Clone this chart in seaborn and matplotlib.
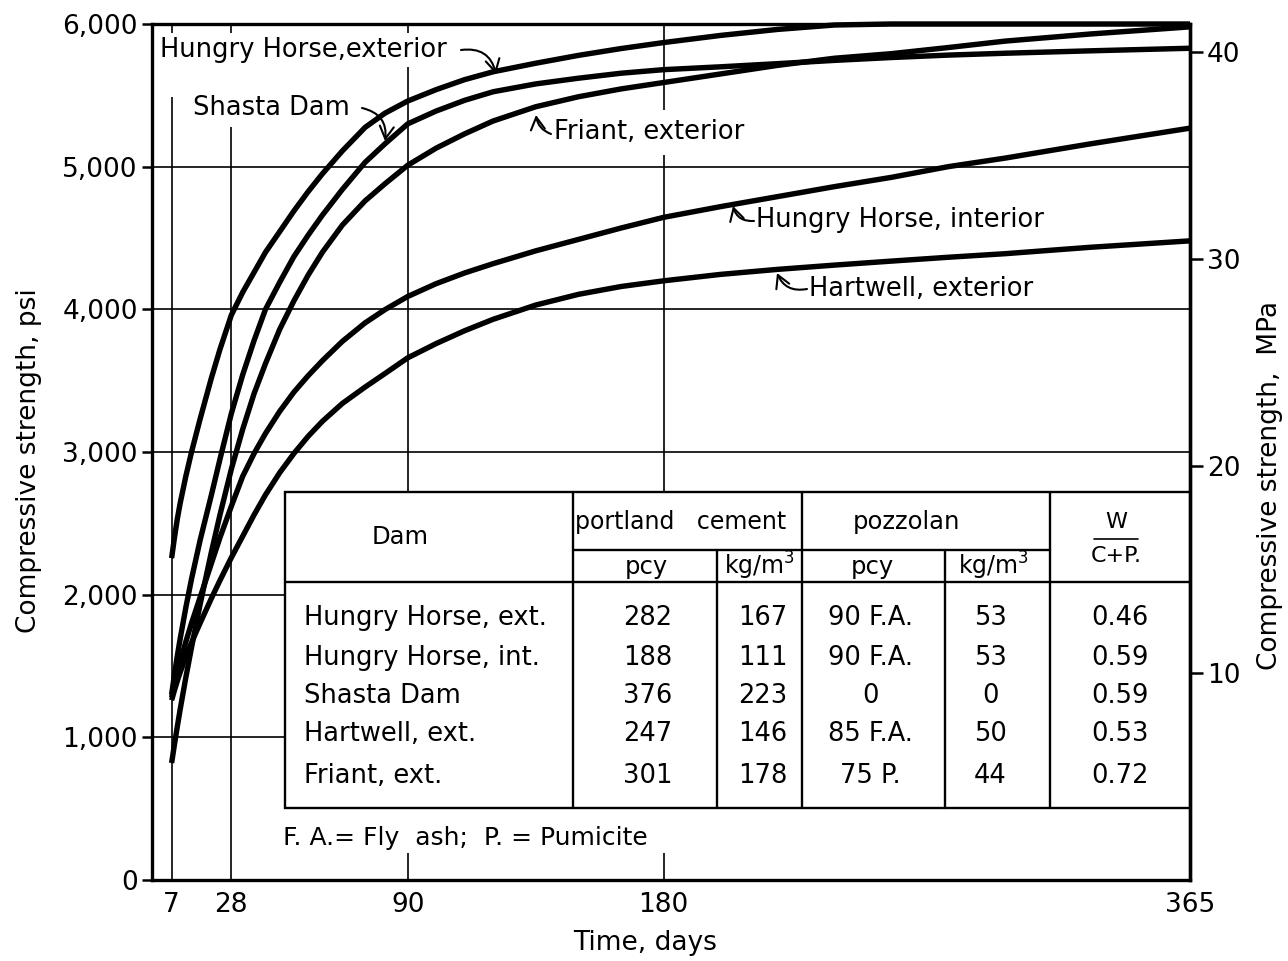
import matplotlib
matplotlib.use("Agg")
import matplotlib.pyplot as plt
from matplotlib.patches import Rectangle
from matplotlib.lines import Line2D
import pandas as pd
import seaborn as sns

# Strength-development curves (psi) at test ages (days)
days = [7, 8, 9, 10, 12, 14, 17, 21, 24, 28, 32, 36, 40, 45, 50, 55, 60, 67, 75, 82,
        90, 100, 110, 120, 135, 150, 165, 180, 200, 220, 240, 260, 280, 300, 330, 365]

hungry_horse_ext = [2256, 2400, 2530, 2640, 2830, 3000, 3230, 3520, 3720, 3960,
                    4120, 4260, 4400, 4545, 4690, 4825, 4950, 5110, 5275, 5375,
                    5460, 5540, 5610, 5665, 5725, 5780, 5828, 5870, 5920, 5962,
                    5993, 6000, 6000, 6000, 6000, 6000]
shasta_dam = [1300, 1440, 1570, 1690, 1910, 2110, 2380, 2700, 2950, 3270,
              3542, 3782, 4000, 4190, 4370, 4520, 4660, 4840, 5030, 5160,
              5300, 5390, 5465, 5525, 5580, 5620, 5655, 5680, 5700, 5722,
              5745, 5765, 5782, 5795, 5812, 5830]
friant_ext = [820, 950, 1075, 1195, 1420, 1630, 1930, 2300, 2560, 2880,
              3160, 3410, 3620, 3860, 4060, 4240, 4400, 4590, 4760, 4880,
              5010, 5130, 5230, 5320, 5420, 5490, 5545, 5590, 5650, 5710,
              5760, 5792, 5835, 5880, 5930, 5980]
hungry_horse_int = [1280, 1370, 1450, 1525, 1670, 1800, 1980, 2220, 2400, 2620,
                    2830, 2990, 3130, 3285, 3420, 3535, 3640, 3775, 3905, 3998,
                    4090, 4180, 4255, 4320, 4410, 4490, 4570, 4645, 4720, 4790,
                    4860, 4925, 5000, 5060, 5160, 5270]
hartwell_ext = [1260, 1330, 1395, 1455, 1565, 1665, 1800, 1975, 2100, 2260,
                2410, 2560, 2700, 2855, 2990, 3110, 3215, 3340, 3455, 3550,
                3660, 3760, 3850, 3930, 4030, 4105, 4160, 4200, 4245, 4280,
                4310, 4338, 4365, 4390, 4435, 4480]

curve_names = ["Hungry Horse, exterior", "Shasta Dam", "Friant, exterior",
               "Hungry Horse, interior", "Hartwell, exterior"]
curve_values = [hungry_horse_ext, shasta_dam, friant_ext, hungry_horse_int, hartwell_ext]

x_ticks = [7, 28, 90, 180, 365]
psi_ticks = [0, 1000, 2000, 3000, 4000, 5000, 6000]
psi_labels = ["0", "1,000", "2,000", "3,000", "4,000", "5,000", "6,000"]
mpa_ticks = [10, 20, 30, 40]
mpa_labels = ["10", "20", "30", "40"]
PSI_TO_MPA = 0.00689476

# Mix table
table_dams = ["Hungry Horse, ext.", "Hungry Horse, int.", "Shasta Dam", "Hartwell, ext.", "Friant, ext."]
cement_pcy = ["282", "188", "376", "247", "301"]
cement_kgm3 = ["167", "111", "223", "146", "178"]
pozzolan_pcy = ["90 F.A.", "90 F.A.", "0", "85 F.A.", "75 P."]
pozzolan_kgm3 = ["53", "53", "0", "50", "44"]
w_cp_ratio = ["0.46", "0.59", "0.59", "0.53", "0.72"]

sns.set_style("white")
plt.rcParams["font.family"] = ["DejaVu Sans"]
for key in ("text.color", "axes.labelcolor", "xtick.color", "ytick.color", "axes.edgecolor"):
    plt.rcParams[key] = "black"

W, H = 1288, 961
L, R, T, B = 151.7, 1190.0, 24.0, 880.0
XMAX, YMAX = 365, 6000

fig = plt.figure(figsize=(W / 100, H / 100), dpi=100)
ax = fig.add_axes([L / W, 1 - B / H, (R - L) / W, (B - T) / H])
ax.set_xlim(0, XMAX)
ax.set_ylim(0, YMAX)


def fx(px):
    return px / W


def fy(py):
    return 1 - py / H


def dx(px):
    return (px - L) / (R - L) * XMAX


def dy(py):
    return (B - py) / (B - T) * YMAX


# Curves
rows = []
for name, vals in zip(curve_names, curve_values):
    for d, v in zip(days, vals):
        rows.append({"day": d, "psi": v, "dam": name})
df = pd.DataFrame(rows)
sns.lineplot(data=df, x="day", y="psi", hue="dam", hue_order=curve_names,
             palette={n: "black" for n in curve_names}, estimator=None,
             sort=False, legend=False, linewidth=3.9, ax=ax, zorder=4)
for ln in ax.lines:
    ln.set_clip_on(False)
    ln.set_solid_joinstyle("round")
    ln.set_solid_capstyle("butt")

# Grid lines (broken around labels and table)
gkw = dict(colors="black", linewidth=1.2, zorder=2)
ax.hlines([1000, 2000, 3000, 4000, 5000], 0, XMAX, **gkw)
ax.vlines(7, 0, dy(97), **gkw)
ax.vlines(7, dy(33), YMAX, **gkw)
ax.vlines(28, 0, dy(127), **gkw)
ax.vlines(28, dy(33), YMAX, **gkw)
ax.vlines(90, 0, dy(853), **gkw)
ax.vlines(90, dy(492), dy(67), **gkw)
ax.vlines(90, dy(33), YMAX, **gkw)
ax.vlines(180, 0, dy(853), **gkw)
ax.vlines(180, dy(492), dy(155), **gkw)
ax.vlines(180, dy(110), YMAX, **gkw)

# Axes styling
for side in ["left", "right", "top", "bottom"]:
    ax.spines[side].set_linewidth(2.4)
ax.set_xticks(x_ticks)
ax.set_xticklabels([str(t) for t in x_ticks])
ax.set_yticks(psi_ticks)
ax.set_yticklabels(psi_labels)
ax.tick_params(axis="x", length=0, pad=9, labelsize=19)
ax.tick_params(axis="y", direction="out", length=7, width=1.8, pad=3, labelsize=19)
ax.set_xlabel("Time, days", fontsize=19)
ax.set_ylabel("Compressive strength, psi", fontsize=19)
ax.xaxis.set_label_coords((645 - L) / (R - L), -(930 - B) / (B - T))
ax.yaxis.set_label_coords((42 - L) / (R - L), 1 - (461 - T) / (B - T))

ax2 = ax.twinx()
ax2.set_ylim(0, YMAX * PSI_TO_MPA)
ax2.set_yticks(mpa_ticks)
ax2.set_yticklabels(mpa_labels)
ax2.tick_params(axis="y", direction="out", length=9, width=1.8, pad=3, labelsize=19)
for side in ["left", "top", "bottom"]:
    ax2.spines[side].set_visible(False)
ax2.spines["right"].set_linewidth(2.4)
ax2.set_ylabel("Compressive strength,  MPa", fontsize=19)
ax2.yaxis.set_label_coords((1257 - L) / (R - L), 1 - (486 - T) / (B - T))

# Curve labels with pointer arrows
lab_kw = dict(fontsize=18.5, color="black", zorder=6)
akw = dict(arrowstyle="->,head_length=0.5,head_width=0.28", color="black",
           lw=1.5, mutation_scale=18, shrinkA=0, shrinkB=0)
ax.text(dx(160), dy(50), "Hungry Horse,exterior", ha="left", va="center", **lab_kw)
ax.annotate("", xy=(dx(496), dy(74)), xytext=(dx(461), dy(50)),
            arrowprops=dict(connectionstyle="arc3,rad=-0.45", **akw))
ax.text(dx(193), dy(108), "Shasta Dam", ha="left", va="center", **lab_kw)
ax.annotate("", xy=(dx(385), dy(141)), xytext=(dx(362), dy(108)),
            arrowprops=dict(connectionstyle="arc3,rad=-0.45", **akw))
ax.text(dx(554), dy(132), "Friant, exterior", ha="left", va="center", **lab_kw)
ax.annotate("", xy=(dx(536), dy(115)), xytext=(dx(551), dy(134)),
            arrowprops=dict(connectionstyle="arc3,rad=-0.3", **akw))
ax.text(dx(756), dy(220), "Hungry Horse, interior", ha="left", va="center", **lab_kw)
ax.annotate("", xy=(dx(733), dy(206)), xytext=(dx(754), dy(221)),
            arrowprops=dict(connectionstyle="arc3,rad=-0.4", **akw))
ax.text(dx(809), dy(289), "Hartwell, exterior", ha="left", va="center", **lab_kw)
ax.annotate("", xy=(dx(777), dy(273)), xytext=(dx(807), dy(289)),
            arrowprops=dict(connectionstyle="arc3,rad=-0.4", **akw))

# Mix-proportion table, laid out in figure coordinates
tf = fig.transFigure
tlw = 1.7
ax.add_patch(Rectangle((fx(285), fy(808)), fx(1190) - fx(285), fy(492) - fy(808),
                       transform=tf, facecolor="white", edgecolor="black",
                       linewidth=tlw, zorder=5, clip_on=False))


def seg(x0, y0, x1, y1, lw=tlw):
    ax.add_line(Line2D([fx(x0), fx(x1)], [fy(y0), fy(y1)], transform=tf,
                       color="black", linewidth=lw, zorder=6, clip_on=False))


seg(285, 582, 1190, 582)
seg(573, 550, 1050, 550)
for xc in (573, 802, 1050):
    seg(xc, 492, xc, 808)
for xc in (717, 945):
    seg(xc, 550, xc, 808)


def ttext(x, y, s, ha="center", size=18.5):
    ax.text(fx(x), fy(y), s, transform=tf, ha=ha, va="center", fontsize=size,
            color="black", zorder=7, clip_on=False)


ttext(400, 537, "Dam", size=17.5)
ttext(681, 522, "portland   cement", size=17)
ttext(646, 567, "pcy", size=17.5)
ttext(760, 566, "kg/m$^3$", size=17)
ttext(906, 522, "pozzolan", size=17.5)
ttext(872, 567, "pcy", size=17.5)
ttext(994, 566, "kg/m$^3$", size=17)
ttext(1116, 522, "W", size=16)
seg(1094, 539, 1138, 539, lw=1.2)
ttext(1116, 556, "C+P.", size=16)

row_y = [618, 658, 696, 734, 776]
for i, yy in enumerate(row_y):
    ttext(304, yy, table_dams[i], ha="left")
    ttext(648, yy, cement_pcy[i])
    ttext(763, yy, cement_kgm3[i])
    ttext(870, yy, pozzolan_pcy[i])
    ttext(990, yy, pozzolan_kgm3[i])
    ttext(1120, yy, w_cp_ratio[i])

ttext(283, 838, "F. A.= Fly  ash;  P. = Pumicite", ha="left", size=18)

fig.savefig("out.png", dpi=100, facecolor="white")
